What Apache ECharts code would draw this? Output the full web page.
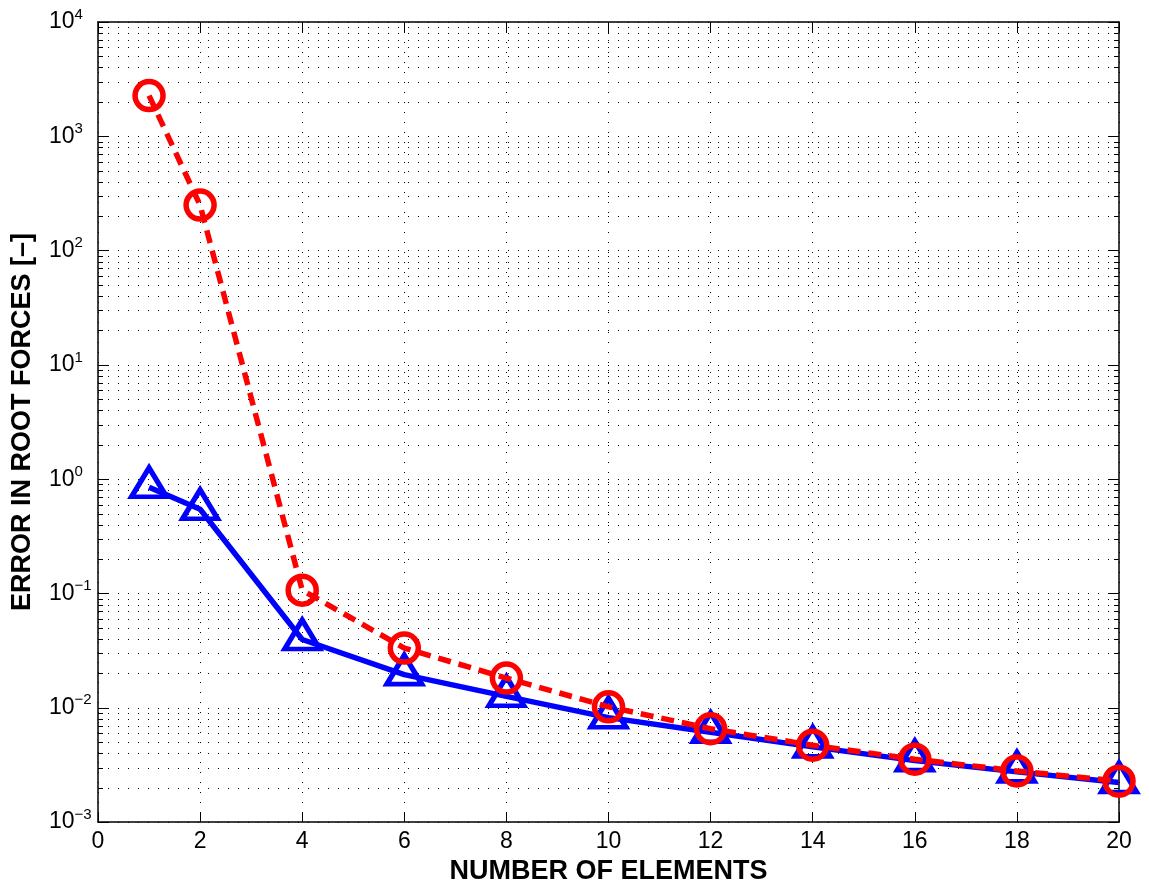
<!DOCTYPE html>
<html>
<head>
<meta charset="utf-8">
<script src="https://cdn.jsdelivr.net/npm/echarts@6/dist/echarts.min.js"></script>
<style>
html,body{margin:0;padding:0;background:#fff;}
#chart{width:1149px;height:890px;}
</style>
</head>
<body>
<div id="chart"></div>
<script>
// ---- data ----
const elements = [1, 2, 4, 6, 8, 10, 12, 14, 16, 18, 20];
const errorRed = [2270, 250, 0.107, 0.0333, 0.0182, 0.0102, 0.00656, 0.0047, 0.00355, 0.0028, 0.00228];
const errorBlue = [0.849, 0.546, 0.0396, 0.0195, 0.0126, 0.0082, 0.0061, 0.00455, 0.00345, 0.00275, 0.00222];
const xTickLabels = ['0','2','4','6','8','10','12','14','16','18','20'];
const yExponentLabels = {'-3':'\u22123','-2':'\u22122','-1':'\u22121','0':'0','1':'1','2':'2','3':'3','4':'4'};
const yDecades = [-3, -2, -1, 0, 1, 2, 3];
const minorMultipliers = [2, 3, 4, 5, 6, 7, 8, 9];

const FONT = '"Liberation Sans", Arial, Helvetica, sans-serif';

const minorValues = [];
yDecades.forEach(d => minorMultipliers.forEach(m => minorValues.push([0, m * Math.pow(10, d)])));

const chart = echarts.init(document.getElementById('chart'), null, {renderer: 'canvas'});

const dotted = {color: '#000', width: 1, type: [1, 9]};

const option = {
  animation: false,
  backgroundColor: '#fff',
  grid: {left: 98, right: 30, top: 22, bottom: 63, containLabel: false},
  xAxis: [{
    type: 'value', min: 0, max: 20, interval: 2, position: 'bottom',
    name: 'NUMBER OF ELEMENTS', nameLocation: 'middle', nameGap: 28,
    nameTextStyle: {fontFamily: FONT, fontWeight: 'bold', fontSize: 27, color: '#000'},
    axisLine: {show: true, onZero: false, lineStyle: {color: '#000', width: 1.5}},
    axisTick: {show: true, inside: true, length: 10, lineStyle: {color: '#000', width: 1}},
    axisLabel: {fontFamily: FONT, fontSize: 23, color: '#000', margin: 8,
      formatter: (v) => xTickLabels[Math.round(v / 2)]},
    splitLine: {show: true, lineStyle: dotted}
  }, {
    type: 'value', min: 0, max: 20, interval: 2, position: 'top',
    axisLine: {show: true, onZero: false, lineStyle: {color: '#000', width: 1.5}},
    axisTick: {show: true, inside: true, length: 10, lineStyle: {color: '#000', width: 1}},
    axisLabel: {show: false}, splitLine: {show: false}
  }],
  yAxis: [{
    type: 'log', logBase: 10, min: 1e-3, max: 1e4, position: 'left',
    name: 'ERROR IN ROOT FORCES [\u2013]', nameLocation: 'middle', nameGap: 62,
    nameTextStyle: {fontFamily: FONT, fontWeight: 'bold', fontSize: 27, color: '#000'},
    axisLine: {show: true, onZero: false, lineStyle: {color: '#000', width: 1.5}},
    axisTick: {show: true, inside: true, length: 10, lineStyle: {color: '#000', width: 1}},
    axisLabel: {
      margin: 49, align: 'left', color: '#000',
      formatter: (v) => {
        const e = String(Math.round(Math.log10(v)));
        return '{b|10}{s|' + yExponentLabels[e] + '}';
      },
      rich: {
        b: {fontFamily: FONT, fontSize: 23, color: '#000', lineHeight: 30, verticalAlign: 'middle'},
        s: {fontFamily: FONT, fontSize: 15, color: '#000', lineHeight: 15, verticalAlign: 'top'}
      }
    },
    splitLine: {show: true, lineStyle: dotted}
  }, {
    type: 'log', logBase: 10, min: 1e-3, max: 1e4, position: 'right',
    axisLine: {show: true, onZero: false, lineStyle: {color: '#000', width: 1.5}},
    axisTick: {show: true, inside: true, length: 10, lineStyle: {color: '#000', width: 1}},
    axisLabel: {show: false}, splitLine: {show: false}
  }],
  series: [{
    type: 'custom',
    xAxisIndex: 0, yAxisIndex: 0,
    silent: true, z: 1,
    data: minorValues,
    encode: {x: 0, y: 1},
    renderItem: (params, api) => {
      const cs = params.coordSys;
      const y = api.coord([0, api.value(1)])[1];
      const yy = Math.round(y) + 0.5;
      return {
        type: 'group',
        children: [
          {type: 'line', shape: {x1: cs.x, y1: yy, x2: cs.x + cs.width, y2: yy},
            style: {stroke: '#000', lineWidth: 1, lineDash: [1, 9]}},
          {type: 'line', shape: {x1: cs.x, y1: yy, x2: cs.x + 5, y2: yy},
            style: {stroke: '#000', lineWidth: 1}},
          {type: 'line', shape: {x1: cs.x + cs.width - 5, y1: yy, x2: cs.x + cs.width, y2: yy},
            style: {stroke: '#000', lineWidth: 1}}
        ]
      };
    }
  }, {
    type: 'line', name: 'blue',
    data: elements.map((x, i) => [x, errorBlue[i]]),
    z: 3,
    lineStyle: {color: '#0000ff', width: 5.5},
    symbol: 'triangle', symbolSize: [35, 29], symbolOffset: [0, -5],
    showAllSymbol: true,
    itemStyle: {color: 'rgba(0,0,0,0)', borderColor: '#0000ff', borderWidth: 5, borderJoin: 'miter'},
    emphasis: {disabled: true}
  }, {
    type: 'line', name: 'red',
    data: elements.map((x, i) => [x, errorRed[i]]),
    z: 4,
    lineStyle: {color: '#ff0000', width: 5.5, type: [13, 8]},
    symbol: 'circle', symbolSize: 28,
    showAllSymbol: true,
    itemStyle: {color: 'rgba(0,0,0,0)', borderColor: '#ff0000', borderWidth: 5.5},
    emphasis: {disabled: true}
  }]
};
chart.setOption(option);
</script>
</body>
</html>
